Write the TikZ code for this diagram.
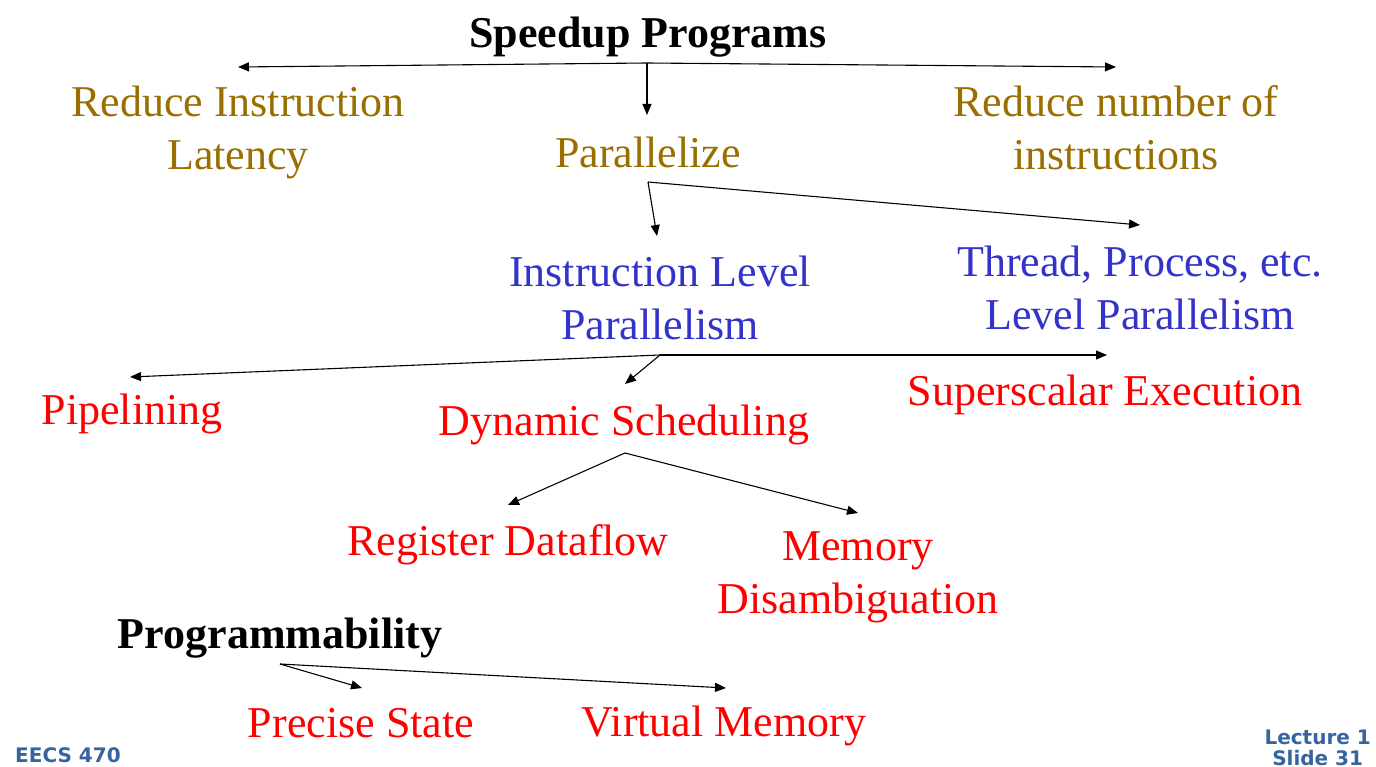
\documentclass[tikz,border=0pt]{standalone}
\usepackage{fontspec}
\setmainfont{Liberation Serif}
\newfontfamily\footfont{DejaVu Sans}
\usetikzlibrary{arrows.meta}
\definecolor{olive}{RGB}{153,112,0}
\definecolor{ilpblue}{RGB}{51,51,204}
\definecolor{redtxt}{RGB}{255,0,0}
\definecolor{footblue}{RGB}{54,100,160}
\begin{document}
\begin{tikzpicture}[x=1pt,y=-1pt,
  lbl/.style={inner sep=0pt,align=center,font=\fontsize{44}{53}\selectfont},
  head/.style={lbl,font=\fontsize{44}{53}\selectfont\bfseries,text=black},
  oli/.style={lbl,text=olive},
  blu/.style={lbl,text=ilpblue},
  rd/.style={lbl,text=redtxt},
  foot/.style={inner sep=0pt,align=center,text=footblue,font=\footfont\bfseries\fontsize{20}{22}\selectfont},
  arr/.style={draw=black,line width=1.1pt,-{Triangle[length=11pt,width=9pt]}}]
\useasboundingbox (0,0) rectangle (1376,767);
\fill[white] (0,0) rectangle (1376,767);

% nodes
\node[head] (title) at (648,37) {Speedup Programs};
\node[oli] (rit) at (238,132) {Reduce Instruction\\Latency};
\node[oli] (par) at (648,152) {Parallelize};
\node[oli] (rni) at (1116,128) {Reduce number of\\instructions};
\node[blu] (ilp) at (660,298) {Instruction Level\\Parallelism};
\node[blu] (tlp) at (1140,288) {Thread, Process, etc.\\Level Parallelism};
\node[rd] (pipe) at (132,414) {Pipelining};
\node[rd] (dyn) at (624,425) {Dynamic Scheduling};
\node[rd] (sup) at (1105,395) {Superscalar Execution};
\node[rd] (reg) at (508,545) {Register Dataflow};
\node[rd] (mem) at (858,577) {Memory\\Disambiguation};
\node[head] (prog) at (280,638) {Programmability};
\node[rd] (pre) at (361,723) {Precise State};
\node[rd] (vm) at (724,726) {Virtual Memory};
\node[foot,anchor=base west] (eecs) at (15,762) {EECS 470};
\node[foot,anchor=base east] (lect) at (1371,744) {Lecture 1};
\node[foot,anchor=base] (slide) at (lect.base |- 0,765) {Slide 31};

% branch points and arrow ends
\coordinate (b0) at (647,63);
\coordinate (b1) at (648,182);
\coordinate (b2) at (660,355);
\coordinate (b3) at (625,453);
\coordinate (b4) at (280,664);
\coordinate (rit-in) at (238,67);
\coordinate (rni-in) at (1116,67);
\coordinate (par-in) at (647,115);
\coordinate (ilp-in) at (657,236);
\coordinate (tlp-in) at (1140,225);
\coordinate (pipe-in) at (130,377);
\coordinate (sup-in) at (1107,355);
\coordinate (dyn-in) at (625,384);
\coordinate (reg-in) at (508,505);
\coordinate (mem-in) at (858,513);
\coordinate (pre-in) at (362,688);
\coordinate (vm-in) at (726,688);

% connectors
\draw[arr] (b0) -- (rit-in);
\draw[arr] (b0) -- (rni-in);
\draw[arr] (b0) -- (par-in);
\draw[arr] (b1) -- (ilp-in);
\draw[arr] (b1) -- (tlp-in);
\draw[arr] (b2) -- (pipe-in);
\draw[arr] (b2) -- (sup-in);
\draw[arr] (b2) -- (dyn-in);
\draw[arr] (b3) -- (reg-in);
\draw[arr] (b3) -- (mem-in);
\draw[arr] (b4) -- (pre-in);
\draw[arr] (b4) -- (vm-in);
\end{tikzpicture}
\end{document}
